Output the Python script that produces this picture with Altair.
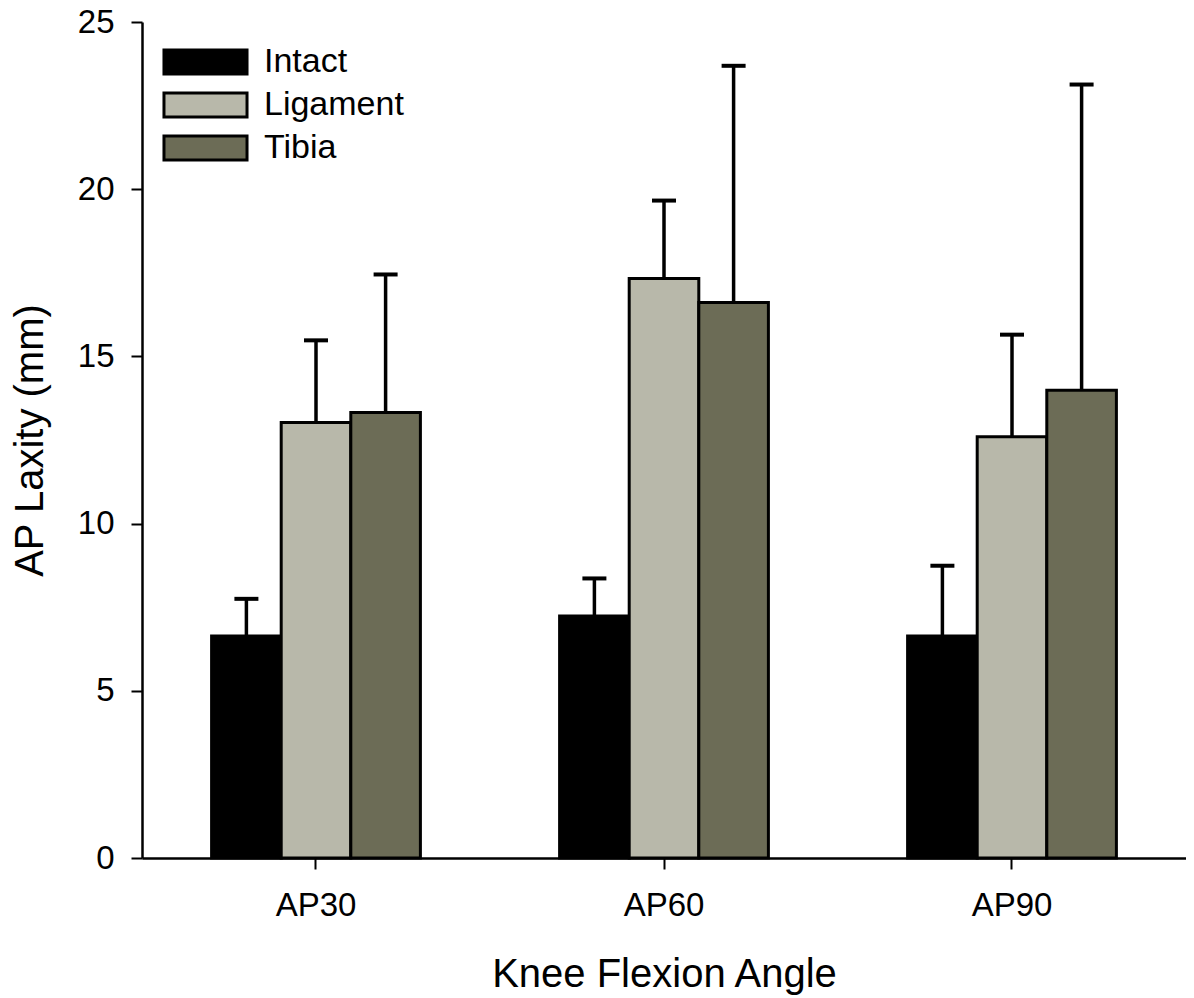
import altair as alt
import pandas as pd

groups = ["AP30", "AP60", "AP90"]
series = ["Intact", "Ligament", "Tibia"]
intact = [6.64, 7.24, 6.64]
intact_sd = [1.11, 1.12, 2.10]
ligament = [13.02, 17.33, 12.60]
ligament_sd = [2.46, 2.33, 3.05]
tibia = [13.32, 16.61, 13.99]
tibia_sd = [4.13, 7.08, 9.14]
colors = ["#000000", "#b8b8aa", "#6c6c56"]

rows = []
for name, vals, sds in [("Intact", intact, intact_sd), ("Ligament", ligament, ligament_sd), ("Tibia", tibia, tibia_sd)]:
    for g, v, s in zip(groups, vals, sds):
        rows.append({"group": g, "series": name, "value": v, "upper": v + s})
df = pd.DataFrame(rows)

FONT = "Liberation Sans"

x = alt.X("group:N", sort=groups, title="Knee Flexion Angle",
          scale=alt.Scale(paddingInner=0.4, paddingOuter=0.2),
          axis=alt.Axis(labelAngle=0, labelFontSize=33, titleFontSize=40,
                        labelPadding=20, titlePadding=32, tickSize=11,
                        tickWidth=2, domainWidth=2.5, labelFont=FONT, titleFont=FONT,
                        labelColor="black", titleColor="black", domainColor="black",
                        tickColor="black", titleFontWeight="normal"))
xo = alt.XOffset("series:N", sort=series, scale=alt.Scale(paddingInner=0, paddingOuter=0))

base = alt.Chart(df)

bars = base.mark_bar(stroke="black", strokeWidth=3).encode(
    x=x, xOffset=xo,
    y=alt.Y("value:Q", title="AP Laxity (mm)",
            scale=alt.Scale(domain=[0, 25], nice=False),
            axis=alt.Axis(values=[0, 5, 10, 15, 20, 25], labelFontSize=33,
                          titleFontSize=40, labelPadding=17, titlePadding=27,
                          tickSize=11, tickWidth=2, domainWidth=2.5, grid=False,
                          labelFont=FONT, titleFont=FONT, labelColor="black",
                          titleColor="black", domainColor="black", tickColor="black",
                          titleFontWeight="normal")),
    fill=alt.Fill("series:N", sort=series,
                  scale=alt.Scale(domain=series, range=colors),
                  legend=alt.Legend(title=None, orient="none", legendX=46.5, legendY=23,
                                    symbolType="M-3.46,-1L3.46,-1L3.46,1L-3.46,1Z",
                                    symbolSize=576, symbolStrokeColor="black",
                                    symbolStrokeWidth=3, labelFontSize=34,
                                    labelOffset=41.5, rowPadding=7,
                                    labelFont=FONT, labelColor="black")),
)

rules = base.mark_rule(color="black", strokeWidth=3.5).encode(
    x=x, xOffset=xo, y="value:Q", y2="upper:Q")

caps = base.mark_tick(color="black", thickness=4, size=24, orient="horizontal",
                      opacity=1).encode(
    x=x, xOffset=xo, y="upper:Q")

chart = alt.layer(rules, caps, bars).properties(
    width=1044, height=836,
    autosize=alt.AutoSizeParams(type="none"),
    padding={"left": 134, "top": 14, "right": 0, "bottom": 138},
    background="white",
).configure_view(stroke="transparent", strokeWidth=0)

chart.save("out.html", embed_options={"renderer": "svg", "actions": False})
